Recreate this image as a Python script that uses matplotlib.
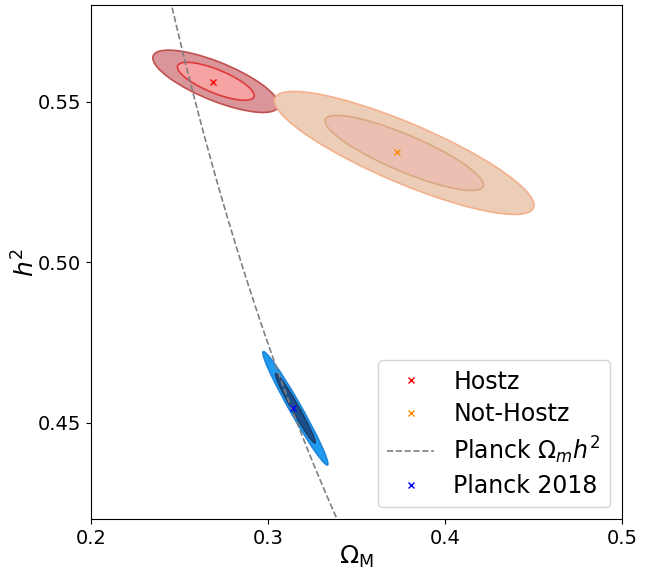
import numpy as np
import matplotlib
matplotlib.use("Agg")
import matplotlib.pyplot as plt
from matplotlib.patches import Ellipse

# Datos
nombres = ["Hostz", "Not-Hostz", "Planck 2018"]
# mejor ajuste (marcas x)
marca_om = [0.269, 0.373, 0.314]
marca_h2 = [0.5562, 0.5342, 0.4546]
# centro de los contornos, sigma_x, sigma_y, correlacion
centro_om = [0.2705, 0.377, 0.3155]
centro_h2 = [0.5563, 0.5340, 0.4545]
sigma_om = [0.0143, 0.0295, 0.0074]
sigma_h2 = [0.0039, 0.0077, 0.0071]
rho = [-0.75, -0.85, -0.978]

color_marca = ["red", "darkorange", "blue"]
color_ext = ["#d9959a", "#eccdb7", "#1f9bf0"]
borde_ext = ["#c0504d", "#f5b08c", "#1f85d8"]
color_int = ["#f5a3a3", "#ebc0b2", "#1c4f8a"]
borde_int = ["#e03a3a", "#dba882", "#1c3f70"]

omh2_planck = 0.1424
niveles = [2.30, 6.18]  # chi2 68% y 95% en 2D


def elipse(cx, cy, sx, sy, r, k2, **kw):
    cov = np.array([[sx**2, r*sx*sy], [r*sx*sy, sy**2]])
    vals, vecs = np.linalg.eigh(cov)
    ang = np.degrees(np.arctan2(vecs[1, 1], vecs[0, 1]))
    w = 2*np.sqrt(k2*vals[1])
    h = 2*np.sqrt(k2*vals[0])
    return Ellipse((cx, cy), w, h, angle=ang, **kw)


fig = plt.figure(figsize=(6.57, 5.73), dpi=100)
ax = fig.add_axes([0.1385, 0.094, 0.808, 0.897])

for i in range(3):
    ax.add_patch(elipse(centro_om[i], centro_h2[i], sigma_om[i], sigma_h2[i], rho[i], niveles[1],
                        facecolor=color_ext[i], edgecolor=borde_ext[i], lw=1.2, zorder=2))
    ax.add_patch(elipse(centro_om[i], centro_h2[i], sigma_om[i], sigma_h2[i], rho[i], niveles[0],
                        facecolor=color_int[i], edgecolor=borde_int[i], lw=1.2, zorder=3))

xs = np.linspace(0.2, 0.5, 400)
ax.plot(marca_om[0], marca_h2[0], "x", color=color_marca[0], ms=5, zorder=5, label=nombres[0])
ax.plot(marca_om[1], marca_h2[1], "x", color=color_marca[1], ms=5, zorder=5, label=nombres[1])
ax.plot(xs, omh2_planck/xs, "--", color="gray", lw=1.2, zorder=4, label=r"Planck $\Omega_m h^2$")
ax.plot(marca_om[2], marca_h2[2], "x", color=color_marca[2], ms=5, zorder=5, label=nombres[2])

ax.set_xlim(0.2, 0.5)
ax.set_ylim(0.42, 0.58)
ax.set_xticks([0.2, 0.3, 0.4, 0.5])
ax.set_xticklabels(["0.2", "0.3", "0.4", "0.5"])
ax.set_yticks([0.45, 0.50, 0.55])
ax.set_yticklabels(["0.45", "0.50", "0.55"])
ax.tick_params(labelsize=14)
ax.set_xlabel(r"$\Omega_{\mathrm{M}}$", fontsize=18, labelpad=-3)
ax.set_ylabel(r"$h^2$", fontsize=18, labelpad=-1)
ax.legend(loc="lower right", fontsize=17, labelspacing=0.35)

fig.savefig("out.png", dpi=100)
